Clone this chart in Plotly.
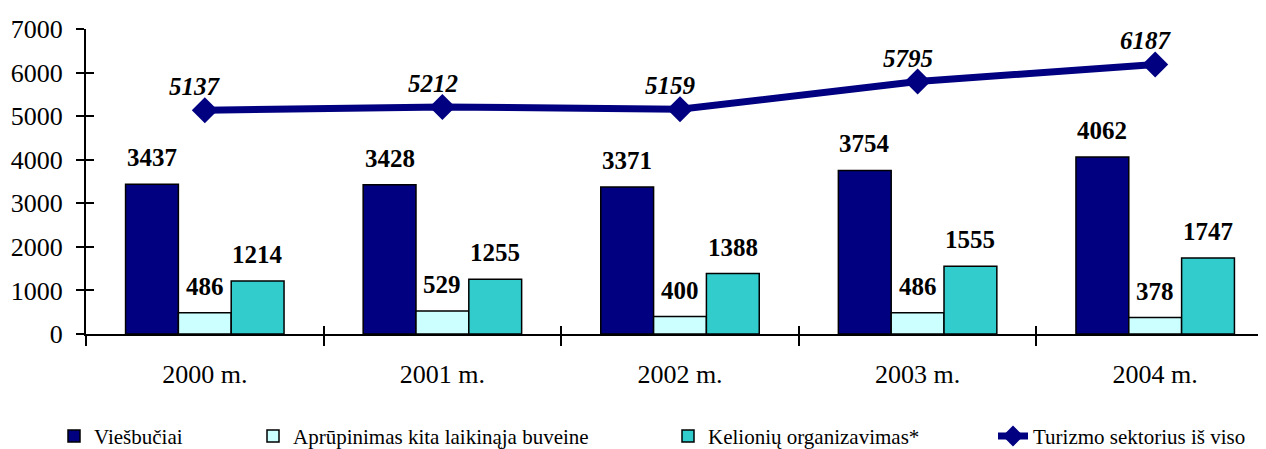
import plotly.graph_objects as go

categories = ["2000 m.", "2001 m.", "2002 m.", "2003 m.", "2004 m."]
viesbuciai = [3437, 3428, 3371, 3754, 4062]
aprupinimas = [486, 529, 400, 486, 378]
kelioniu = [1214, 1255, 1388, 1555, 1747]
turizmas = [5137, 5212, 5159, 5795, 6187]

series_names = ["Viešbučiai", "Aprūpinimas kita laikinąja buveine",
                "Kelionių organizavimas*", "Turizmo sektorius iš viso"]
bar_colors = ["#000080", "#CCFFFF", "#33CCCC"]
line_color = "#000080"
serif = "Liberation Serif"

# page body has an 8px default margin, so the figure is offset by 8px
ML, MT, MB = 78, 21, 121
PW = 1266 - ML
PH = 449 - MT - MB

bargap = 0.333
fig = go.Figure()
bar_series = [viesbuciai, aprupinimas, kelioniu]
legend_ids = ["legend", "legend2", "legend3", "legend4"]
for name, vals, col, lg in zip(series_names[:3], bar_series, bar_colors, legend_ids):
    fig.add_trace(go.Bar(x=categories, y=vals, name=name, legend=lg,
                         marker=dict(color=col, line=dict(color="black", width=1.5))))

fig.add_trace(go.Scatter(x=categories, y=turizmas, name=series_names[3], mode="lines+markers",
                         legend="legend4",
                         line=dict(color=line_color, width=7),
                         marker=dict(symbol="diamond", size=20, color=line_color)))

# invisible trace on overlay axes, only to draw the inner half of the crossing tick marks
fig.add_trace(go.Scatter(x=categories, y=turizmas, xaxis="x2", yaxis="y2", mode="markers",
                         marker=dict(opacity=0), showlegend=False, hoverinfo="skip"))

annotations = []
bw = (1 - bargap) / 3
for k, vals in enumerate(bar_series):
    off = (k - 1) * bw
    for i, v in enumerate(vals):
        annotations.append(dict(x=i + off, y=v, xref="x", yref="y", text=f"<b>{v}</b>",
                                showarrow=False, yanchor="bottom", yshift=11,
                                font=dict(family=serif, size=25, color="black")))
for i, v in enumerate(turizmas):
    annotations.append(dict(x=i - 0.04, y=v, xref="x", yref="y", text=f"<b><i>{v}</i></b>",
                            showarrow=False, yanchor="bottom", yshift=8,
                            font=dict(family=serif, size=25, color="black")))

legend_x_px = [46, 245, 660, 985]
legends = {}
for lg, px in zip(legend_ids, legend_x_px):
    legends[lg] = dict(orientation="h", x=(px - ML) / PW, xanchor="left",
                       y=-(431 - (MT + PH)) / PH, yanchor="middle",
                       font=dict(family=serif, size=21, color="black"),
                       bgcolor="rgba(0,0,0,0)", itemwidth=30)

fig.update_layout(
    width=1266, height=449,
    margin=dict(l=ML, r=0, t=MT, b=MB),
    paper_bgcolor="white", plot_bgcolor="white",
    barmode="group", bargap=bargap, bargroupgap=0,
    font=dict(family=serif, size=20, color="black"),
    annotations=annotations,
    showlegend=True,
    **legends,
    xaxis=dict(type="category", range=[-0.5, 4.5], showline=True, linecolor="black", linewidth=2,
               ticks="outside", tickson="boundaries", ticklen=10, tickwidth=2, tickcolor="black",
               ticklabelstandoff=16,
               tickfont=dict(family=serif, size=26), showgrid=False, zeroline=False),
    yaxis=dict(range=[0, 7000], dtick=1000, showline=True, linecolor="black", linewidth=2,
               ticks="outside", ticklen=8, tickwidth=2, tickcolor="black",
               ticklabelstandoff=8,
               tickfont=dict(family=serif, size=26), showgrid=False, zeroline=False),
    xaxis2=dict(type="category", overlaying="x", range=[-0.5, 4.5], ticks="inside",
                tickson="boundaries", ticklen=8, tickwidth=2, tickcolor="black",
                showticklabels=False, showline=False, showgrid=False, zeroline=False),
    yaxis2=dict(overlaying="y", range=[0, 7000], dtick=1000, ticks="inside", ticklen=8,
                tickwidth=2, tickcolor="black", showticklabels=False, showline=False,
                showgrid=False, zeroline=False),
)

fig.write_html("out.html")
